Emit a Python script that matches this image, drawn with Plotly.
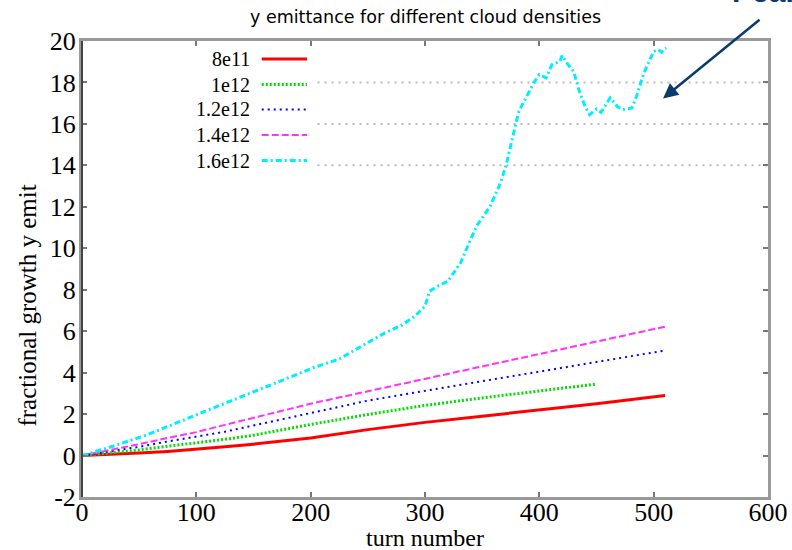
import plotly.graph_objects as go

# ---- data ----
names = ["8e11", "1e12", "1.2e12", "1.4e12", "1.6e12"]
colors = ["#ff0000", "#00dd00", "#0000ff", "#ff33ff", "#00eeff"]
dashes = ["solid", "2px,2px", "2px,4px", "7px,3px", "6px,3px,2px,3px"]
widths = [3, 3, 2, 2, 3]

turns_8e11 = [0, 25, 50, 75, 100, 125, 150, 175, 200, 250, 300, 350, 400, 450, 510]
grow_8e11 = [0, 0.05, 0.12, 0.2, 0.3, 0.42, 0.55, 0.7, 0.85, 1.25, 1.6, 1.9, 2.2, 2.5, 2.9]

turns_1e12 = [0, 25, 50, 75, 100, 125, 150, 200, 250, 300, 350, 400, 450]
grow_1e12 = [0, 0.12, 0.27, 0.45, 0.6, 0.78, 0.98, 1.5, 1.98, 2.42, 2.78, 3.1, 3.45]

turns_1p2e12 = [0, 25, 50, 75, 100, 125, 150, 200, 250, 300, 350, 400, 450, 510]
grow_1p2e12 = [0, 0.2, 0.42, 0.68, 0.92, 1.15, 1.45, 2.05, 2.65, 3.12, 3.58, 4.05, 4.5, 5.07]

turns_1p4e12 = [0, 25, 50, 75, 100, 125, 150, 200, 250, 300, 350, 400, 450, 510]
grow_1p4e12 = [0, 0.27, 0.55, 0.85, 1.13, 1.48, 1.82, 2.5, 3.1, 3.7, 4.3, 4.9, 5.5, 6.22]

turns_1p6e12 = [0, 27, 57, 86, 115, 144, 173, 202, 225, 249, 265, 280, 291, 300, 304,
                312, 320, 331, 345, 357, 366, 371, 377, 382, 389, 395, 400, 406, 411,
                418, 420, 425, 430, 435, 440, 444, 450, 454, 462, 468, 473, 481, 485,
                490, 494, 500, 504, 507, 511]
grow_1p6e12 = [0, 0.45, 1.0, 1.66, 2.3, 2.94, 3.58, 4.23, 4.66, 5.44, 5.92, 6.3, 6.72, 7.2, 7.93,
               8.2, 8.41, 9.29, 11.06, 12.03, 13.15, 14.02, 15.4, 16.6, 17.33, 17.98, 18.38, 18.22, 18.86,
               19.02, 19.3, 18.86, 18.54, 17.57, 16.85, 16.45, 16.72, 16.56, 17.26, 16.85, 16.69, 16.77, 17.33,
               18.22, 18.78, 19.5, 19.58, 19.46, 19.67]

series_x = [turns_8e11, turns_1e12, turns_1p2e12, turns_1p4e12, turns_1p6e12]
series_y = [grow_8e11, grow_1e12, grow_1p2e12, grow_1p4e12, grow_1p6e12]

x_ticks = [0, 100, 200, 300, 400, 500, 600]
y_ticks = [-2, 0, 2, 4, 6, 8, 10, 12, 14, 16, 18, 20]
y_tick_text = ["-2", "0", "2", "4", "6", "8", "10", "12", "14", "16", "18", "20"]
grid_levels = [14, 16, 18]

title_text = "y emittance for different cloud densities"
x_title = "turn number"
y_title = "fractional growth y emit"

# ---- figure ----
fig = go.Figure()
for n, xs, ys, c, d, w in zip(names, series_x, series_y, colors, dashes, widths):
    fig.add_trace(go.Scatter(x=xs, y=ys, name=n, mode="lines",
                             line=dict(color=c, dash=d, width=w), showlegend=False))

serif = "Liberation Serif"
fig.update_layout(
    width=792, height=550,
    margin=dict(l=82, r=24, t=41, b=53, autoexpand=False),
    paper_bgcolor="white", plot_bgcolor="white",
    showlegend=False,
)
fig.update_xaxes(range=[0, 600], tickvals=x_ticks, ticks="inside", ticklen=5,
                 tickcolor="#777", tickwidth=1.5, showgrid=False, zeroline=False,
                 showline=True, linecolor="#999", linewidth=3, mirror="ticks",
                 ticklabelstandoff=-10, automargin=False,
                 tickfont=dict(family=serif, size=26, color="black"))
fig.update_yaxes(range=[-2, 20], tickvals=y_ticks, ticktext=y_tick_text,
                 ticks="inside", ticklen=5, ticklabelstandoff=-2, automargin=False,
                 tickcolor="#777", tickwidth=1.5, showgrid=False, zeroline=False,
                 showline=True, linecolor="#999", linewidth=3, mirror="ticks",
                 tickfont=dict(family=serif, size=26, color="black"))

# partial dotted grid lines (as in the reference)
for g in grid_levels:
    fig.add_shape(type="line", xref="x", yref="y", x0=206, x1=600, y0=g, y1=g,
                  line=dict(color="#bbbbbb", width=2, dash="2px,5px"), layer="below")

# darker left axis line
fig.add_shape(type="line", xref="paper", yref="paper", x0=0, x1=0, y0=0, y1=1,
              line=dict(color="#444", width=2))

# gnuplot-style key: text right-aligned, sample to the right
row_y = [0.9605, 0.9046, 0.8498, 0.7939, 0.7379]
for n, c, d, w, ry in zip(names, colors, dashes, widths, row_y):
    fig.add_annotation(xref="paper", yref="paper", x=0.248, y=ry, text=n,
                       showarrow=False, xanchor="right", yanchor="middle",
                       font=dict(family=serif, size=20, color="black"))
    fig.add_shape(type="line", xref="paper", yref="paper", x0=0.262, x1=0.328,
                  y0=ry, y1=ry, line=dict(color=c, dash=d, width=w))

# title
fig.add_annotation(xref="paper", yref="paper", x=0.5, y=1.053, text=title_text,
                   showarrow=False, xanchor="center", yanchor="middle",
                   font=dict(family="DejaVu Sans", size=17.5, color="black"))
# axis titles
fig.add_annotation(xref="paper", yref="paper", x=0.5, y=-0.09, text=x_title,
                   showarrow=False, xanchor="center", yanchor="middle",
                   font=dict(family=serif, size=24, color="black"))
fig.add_annotation(xref="paper", yref="paper", x=-0.08, y=0.42, text=y_title,
                   textangle=-90, showarrow=False, xanchor="center", yanchor="middle",
                   font=dict(family=serif, size=25, color="black"))

# arrow and the clipped label at the top-right
fig.add_annotation(xref="paper", yref="paper", x=0.847, y=0.874, text="",
                   showarrow=True, arrowhead=2, arrowsize=1.2, arrowwidth=2.5,
                   arrowcolor="#0b3a6e", ax=98, ay=-80)
fig.add_annotation(xref="paper", yref="paper", x=0.945, y=1.069, text="<b>Peak</b>",
                   showarrow=False, xanchor="left", yanchor="bottom",
                   font=dict(family="Liberation Sans", size=30, color="#0b3a6e"))

fig.write_html("out.html")
